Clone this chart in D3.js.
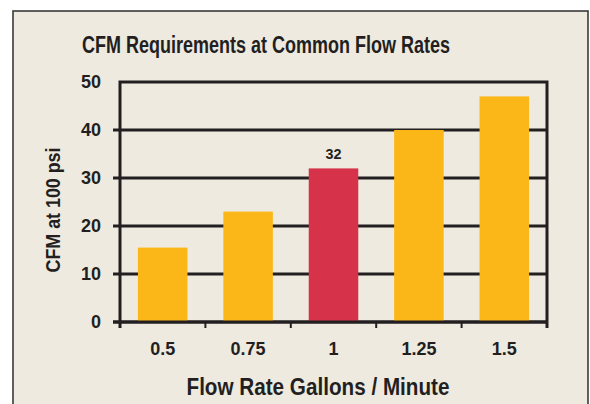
<!DOCTYPE html>
<html>
<head>
<meta charset="utf-8">
<script src="https://cdn.jsdelivr.net/npm/d3@7"></script>
<style>
  html, body { margin: 0; padding: 0; background: #ffffff; }
  svg { display: block; }
  text { font-family: "Liberation Sans", Arial, sans-serif; font-weight: bold; fill: #231f20; }
</style>
</head>
<body>
<script>
const categories = ["0.5", "0.75", "1", "1.25", "1.5"];
const values = [15.5, 23, 32, 40, 47];
const highlight = [false, false, true, false, false];
const yTicks = [0, 10, 20, 30, 40, 50];
const labels = [null, null, "32", null, null];
const title = "CFM Requirements at Common Flow Rates";
const xTitle = "Flow Rate Gallons / Minute";
const yTitle = "CFM at 100 psi";

const W = 590, H = 404;
const ink = "#231f20";
const svg = d3.select("body").append("svg").attr("width", W).attr("height", H);

// panel background and frame
svg.append("rect").attr("x", 13).attr("y", 11).attr("width", 575).attr("height", 400)
  .attr("fill", "#eeeae0").attr("stroke", "#3a3a3a").attr("stroke-width", 1.6);

const x = d3.scaleBand().domain(categories).range([120, 547]).paddingInner(0.42).paddingOuter(0.21);
const y = d3.scaleLinear().domain([0, 50]).range([322, 82]);

// gridlines (top one is part of the frame)
svg.append("g").selectAll("line").data(yTicks.filter(d => d < 50)).join("line")
  .attr("x1", 113).attr("x2", 547).attr("y1", d => y(d)).attr("y2", d => y(d))
  .attr("stroke", ink).attr("stroke-width", 3);

// bars
svg.append("g").selectAll("rect").data(values).join("rect")
  .attr("x", (d, i) => x(categories[i]))
  .attr("width", x.bandwidth())
  .attr("y", d => y(d))
  .attr("height", d => y(0) - y(d))
  .attr("fill", (d, i) => highlight[i] ? "#d6334a" : "#fbb718");

// plot frame: left, top, right
svg.append("path")
  .attr("d", `M120,${y(0) + 6} L120,${y(50)} L547,${y(50)} L547,${y(0) + 6}`)
  .attr("fill", "none").attr("stroke", ink).attr("stroke-width", 3);
svg.append("line").attr("x1", 113).attr("x2", 547).attr("y1", y(0)).attr("y2", y(0))
  .attr("stroke", ink).attr("stroke-width", 3);

// x tick marks at band boundaries
const step = x.step();
const bounds = categories.map(c => x(c) - (step - x.bandwidth()) / 2).concat([547]);
svg.append("g").selectAll("line").data(bounds).join("line")
  .attr("x1", d => d).attr("x2", d => d).attr("y1", y(0)).attr("y2", y(0) + 6)
  .attr("stroke", ink).attr("stroke-width", 2);

// y tick labels
svg.append("g").selectAll("text").data(yTicks).join("text")
  .attr("x", 101).attr("y", d => y(d)).attr("dy", "0.36em")
  .attr("text-anchor", "end").attr("font-size", 18).text(d => d);

// x tick labels
svg.append("g").selectAll("text").data(categories).join("text")
  .attr("x", d => x(d) + x.bandwidth() / 2).attr("y", 355)
  .attr("text-anchor", "middle").attr("font-size", 18).text(d => d);

// value labels
svg.append("g").selectAll("text").data(values).join("text")
  .attr("x", (d, i) => x(categories[i]) + x.bandwidth() / 2).attr("y", d => y(d) - 9)
  .attr("text-anchor", "middle").attr("font-size", 15)
  .text((d, i) => labels[i] || "")
  .each(function() { if (this.textContent) d3.select(this).attr("textLength", 16).attr("lengthAdjust", "spacingAndGlyphs"); });

// titles (condensed to match reference widths)
svg.append("text").attr("x", 266).attr("y", 53).attr("text-anchor", "middle")
  .attr("font-size", 23).attr("textLength", 368).attr("lengthAdjust", "spacingAndGlyphs").text(title);
svg.append("text").attr("x", 318).attr("y", 395).attr("text-anchor", "middle")
  .attr("font-size", 23).attr("textLength", 263).attr("lengthAdjust", "spacingAndGlyphs").text(xTitle);
svg.append("text").attr("transform", "translate(60,210) rotate(-90)").attr("text-anchor", "middle")
  .attr("font-size", 21).attr("textLength", 125).attr("lengthAdjust", "spacingAndGlyphs").text(yTitle);
</script>
</body>
</html>
